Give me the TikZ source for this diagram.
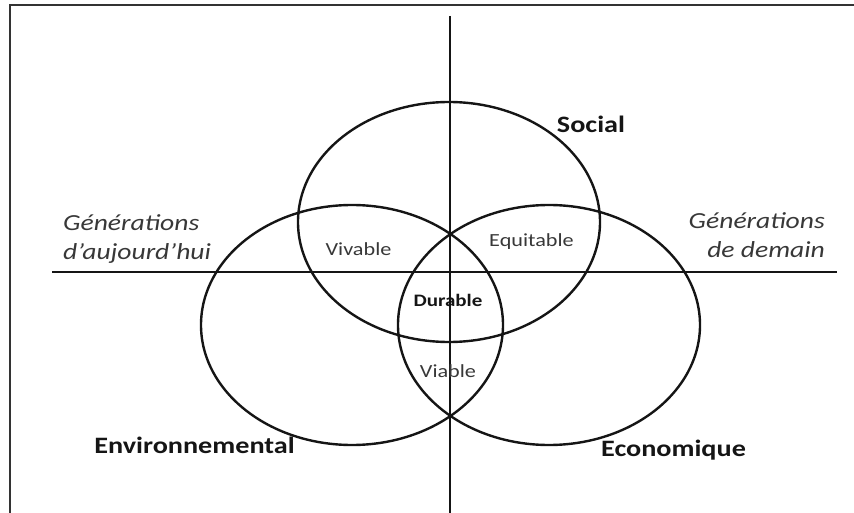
\documentclass[tikz,border=0pt]{standalone}
\usepackage{fontspec}
\usetikzlibrary{shapes.geometric}
\setmainfont{Carlito}[FakeStretch=1.2]
\definecolor{ink}{HTML}{151515}
\definecolor{soft}{HTML}{383838}
\definecolor{frame}{HTML}{333333}
\begin{document}
\begin{tikzpicture}[x=1pt,y=-1pt,
  ring/.style={draw=ink,line width=2.4pt,ellipse,minimum width=302pt,minimum height=240pt,inner sep=0pt},
  axis/.style={draw=ink,line width=2.2pt},
  frameline/.style={draw=frame,line width=2.4pt},
  big/.style={text=ink,font=\fontsize{23.5}{27}\selectfont\bfseries,inner sep=0pt},
  small/.style={text=soft,font=\fontsize{18.5}{22}\selectfont,inner sep=0pt},
  mid/.style={text=ink,font=\fontsize{17.5}{21}\selectfont\bfseries,inner sep=0pt},
  gen/.style={text=soft,font=\fontsize{23}{27.7}\selectfont\itshape,inner sep=0pt}]
\useasboundingbox (0,0) rectangle (854,513);
% frame
\coordinate (fbl) at (10,513);
\coordinate (ftl) at (10,5);
\coordinate (ftr) at (854,5);
\draw[frameline] (fbl) -- (ftl) -- (ftr);
% axes
\coordinate (vtop) at (450,16);
\coordinate (vbot) at (450,513);
\coordinate (hl) at (52,272);
\coordinate (hr) at (837,272);
\draw[axis] (vtop) -- (vbot);
\draw[axis] (hl) -- (hr);
% ellipses
\node[ring] (social) at (449,222) {};
\node[ring] (env) at (352,325) {};
\node[ring] (eco) at (549,325) {};
% labels
\node[big,anchor=base] (lsocial) at (591,133) {Social};
\node[big,anchor=base] (lenv) at (194.5,453) {Environnemental};
\node[big,anchor=base] (leco) at (673.5,456) {Economique};
\node[mid,anchor=base] (ldur) at (448,306) {Durable};
\node[small,anchor=base] (lviv) at (358.5,255) {Vivable};
\node[small,anchor=base] (lequ) at (531.5,247) {Equitable};
\node[small,anchor=base] (lvia) at (448,377) {Viable};
\node[gen,anchor=base west] (g1a) at (63,231) {Générations};
\node[gen,anchor=base west] (g1b) at (63,259) {d’aujourd’hui};
\node[gen,anchor=base east] (g2a) at (825,229) {Générations};
\node[gen,anchor=base east] (g2b) at (825,258) {de demain};
\end{tikzpicture}
\end{document}
